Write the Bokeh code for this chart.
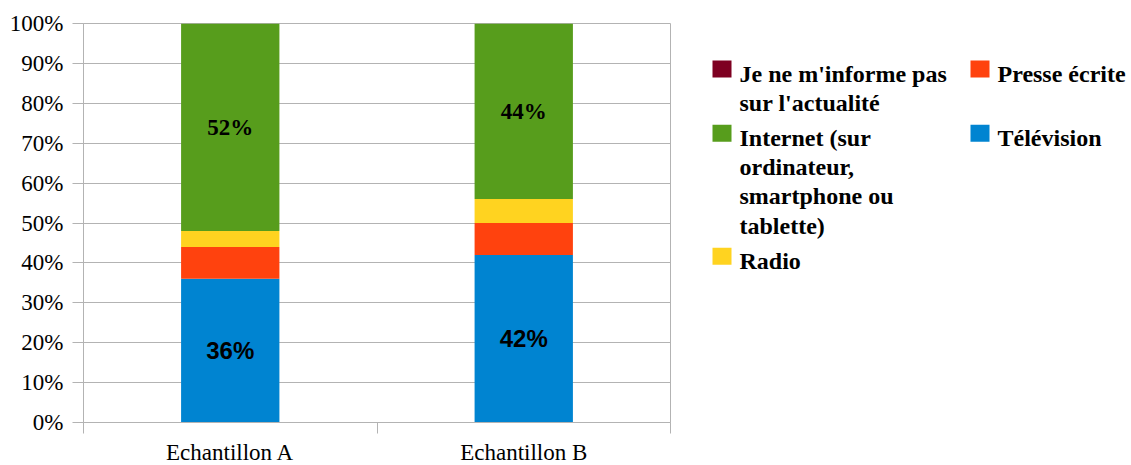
from bokeh.plotting import figure
from bokeh.models import Range1d, FixedTicker, PrintfTickFormatter, ColumnDataSource
from bokeh.layouts import row, column
from bokeh.core.properties import value
from bokeh.embed import file_html
from bokeh.resources import INLINE

# ---------------- data ----------------
categories = ["Echantillon A", "Echantillon B"]
television = [36, 42]
presse = [8, 8]
radio = [4, 6]
internet = [52, 44]
aucun = [0, 0]

series_keys = ["television", "presse", "radio", "internet", "aucun"]
series_names = ["Télévision", "Presse écrite", "Radio",
                "Internet (sur ordinateur, smartphone ou tablette)",
                "Je ne m'informe pas sur l'actualité"]
colors = ["#0084d1", "#ff420e", "#ffd320", "#579d1c", "#7e0021"]
y_ticks = list(range(0, 101, 10))

# legend display order (2 columns, row-major) and wrapped labels
legend_order = ["aucun", "presse", "internet", "television", "radio"]
legend_wrapped = {
    "aucun": ["Je ne m'informe pas", "sur l'actualité"],
    "presse": ["Presse écrite"],
    "internet": ["Internet (sur", "ordinateur,", "smartphone ou", "tablette)"],
    "television": ["Télévision"],
    "radio": ["Radio"],
}

GRID = "#b3b3b3"
SERIF = value("Liberation Serif")
SANS = value("Liberation Sans")
H = 465
MAIN_W = 690
MAIN_H = 435
BOT_H = H - MAIN_H

xs = [i + 0.5 for i in range(len(categories))]
source = ColumnDataSource(dict(x=xs, television=television, presse=presse,
                               radio=radio, internet=internet, aucun=aucun))
xr = Range1d(0, len(categories))

p = figure(width=MAIN_W, height=MAIN_H, x_range=xr,
           y_range=Range1d(0, 100), output_backend="svg", toolbar_location=None,
           min_border_left=83, min_border_top=23, min_border_bottom=13,
           min_border_right=20)
p.background_fill_color = "white"
p.border_fill_color = "white"
p.outline_line_color = GRID

p.vbar_stack(series_keys, x="x", width=0.335, source=source,
             fill_color=colors, line_color=None)

# data labels
tv_mid = [t / 2 for t in television]
net_mid = [t + pr + r + n / 2 for t, pr, r, n in zip(television, presse, radio, internet)]
p.text(x=xs, y=tv_mid, text=[f"{v}%" for v in television], text_align="center",
       text_baseline="middle", text_font=SANS, text_font_style="bold",
       text_font_size="24px", text_color="black")
p.text(x=xs, y=net_mid, text=[f"{v}%" for v in internet], text_align="center",
       text_baseline="middle", text_font=SERIF, text_font_style="bold",
       text_font_size="23px", text_color="black")

# x axis: only boundary ticks (as minor ticks)
xa = p.xaxis[0]
xa.ticker = FixedTicker(ticks=[], minor_ticks=list(range(len(categories) + 1)))
xa.major_tick_line_color = None
xa.major_tick_out = 0
xa.major_tick_in = 0
xa.minor_tick_out = 11
xa.minor_tick_in = 0
xa.minor_tick_line_color = GRID
xa.axis_line_color = GRID
xa.major_label_standoff = 0
xa.major_label_text_font_size = "0px"

ya = p.yaxis[0]
ya.ticker = FixedTicker(ticks=y_ticks)
ya.formatter = PrintfTickFormatter(format="%d%%")
ya.major_tick_out = 11
ya.major_tick_in = 0
ya.minor_tick_line_color = None
ya.major_tick_line_color = GRID
ya.axis_line_color = GRID
ya.major_label_text_font = "Liberation Serif"
ya.major_label_text_font_size = "23px"
ya.major_label_text_color = "black"
ya.major_label_standoff = 9

p.xgrid.visible = False
p.ygrid.ticker = FixedTicker(ticks=y_ticks)
p.ygrid.grid_line_color = GRID

# category names strip under the plot (shares the x range)
pb = figure(width=MAIN_W, height=BOT_H, x_range=xr, y_range=Range1d(0, BOT_H),
            output_backend="svg", toolbar_location=None, title=None,
            min_border_left=83, min_border_right=20, min_border_top=0,
            min_border_bottom=0, x_axis_type=None, y_axis_type=None)
pb.outline_line_color = None
pb.xgrid.visible = False
pb.ygrid.visible = False
pb.background_fill_color = "white"
pb.border_fill_color = "white"
pb.text(x=xs, y=[13] * len(xs), text=categories, text_align="center",
        text_baseline="middle", text_font=SERIF, text_font_size="23px",
        text_color="black")

# ---------------- legend panel ----------------
LW = 441
lg = figure(width=LW, height=H, x_range=Range1d(0, LW), y_range=Range1d(H, 0),
            output_backend="svg", toolbar_location=None, min_border=0, title=None,
            x_axis_type=None, y_axis_type=None)
lg.outline_line_color = None
lg.xgrid.visible = False
lg.ygrid.visible = False
lg.background_fill_color = "white"
lg.border_fill_color = "white"

col_sw_x = [22, 280]
col_tx_x = [49, 307]
line_h = 29.3
row_baseline = 83
text_shift = -10
sw_l, sw_r, sw_t, sw_b, sw_c, tx_x, tx_y, tx_s = [], [], [], [], [], [], [], []
for r0 in range(0, len(legend_order), 2):
    entries = legend_order[r0:r0 + 2]
    max_lines = 0
    for ci, key in enumerate(entries):
        lines = legend_wrapped[key]
        max_lines = max(max_lines, len(lines))
        sw_l.append(col_sw_x[ci]); sw_r.append(col_sw_x[ci] + 19)
        sw_t.append(row_baseline - 23); sw_b.append(row_baseline - 6)
        sw_c.append(colors[series_keys.index(key)])
        for li, ln in enumerate(lines):
            tx_x.append(col_tx_x[ci])
            tx_y.append(row_baseline + li * line_h + text_shift)
            tx_s.append(ln)
    row_baseline = row_baseline + (max_lines - 1) * line_h + 35

lg.quad(left=sw_l, right=sw_r, top=sw_t, bottom=sw_b, fill_color=sw_c, line_color=None)
lg.text(x=tx_x, y=tx_y, text=tx_s, text_align="left", text_baseline="alphabetic",
        text_font=SERIF, text_font_style="bold", text_font_size="24px",
        text_color="black")

layout = row(column(p, pb), lg)
open("out.html", "w").write(file_html(layout, INLINE))
